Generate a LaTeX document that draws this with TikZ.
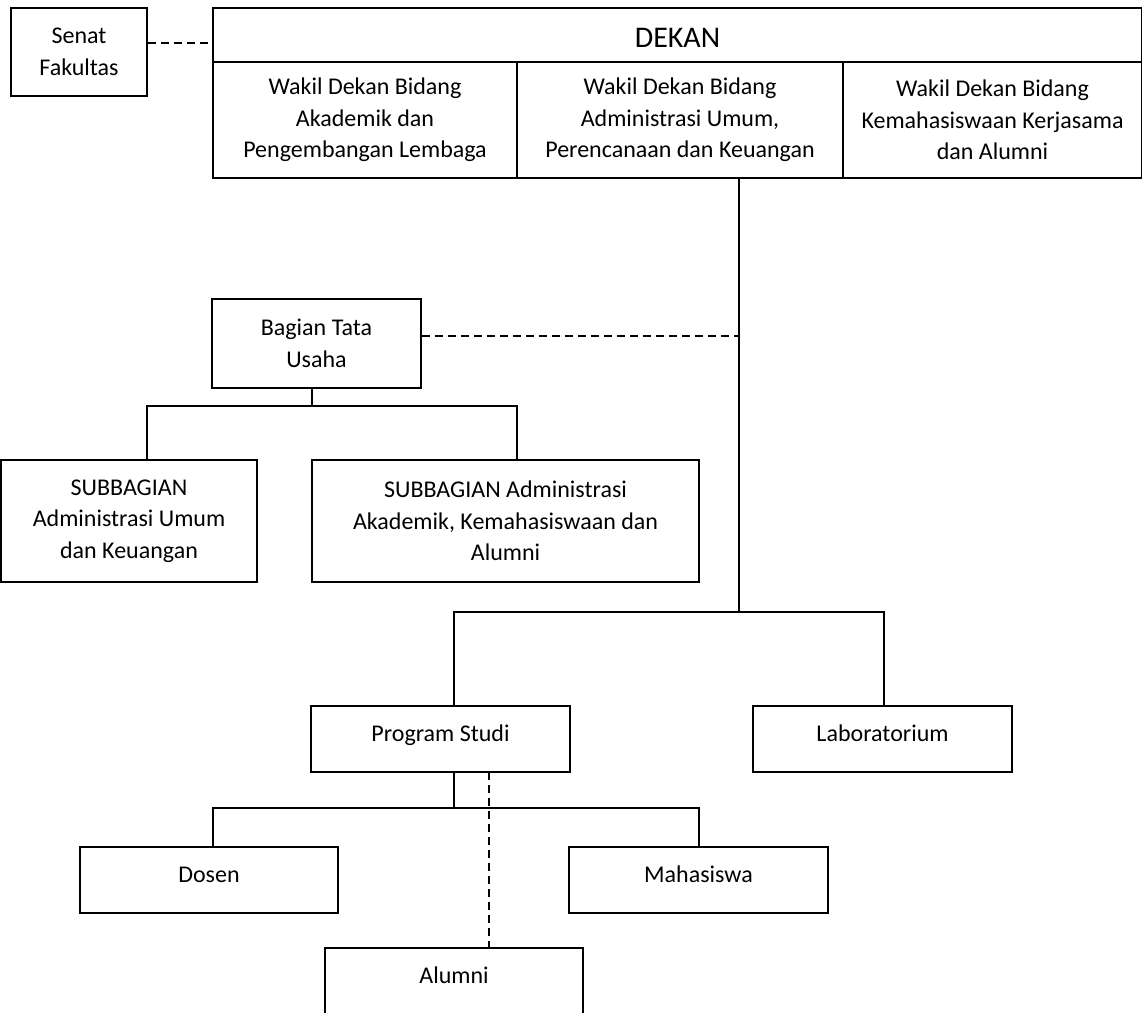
\documentclass[tikz,border=0pt]{standalone}
\usepackage{fontspec}
\setmainfont{Carlito}
\begin{document}
\begin{tikzpicture}[x=1pt,y=-1pt,
  box/.style={draw, line width=1.6pt, rectangle, align=center, inner sep=0pt,
    font=\fontsize{24}{31.5}\selectfont},
  one/.style={text height=16pt, text depth=11pt},
  conn/.style={line width=1.3pt},
  dashconn/.style={line width=1.3pt, dash pattern=on 8pt off 5pt}]
\useasboundingbox (0,0) rectangle (1142,1012);

% top
\node[box, minimum width=136pt, minimum height=88pt] (senat) at (79,52) {Senat\\Fakultas};
\node[box, line width=2pt, minimum width=929pt, minimum height=54pt,
  font=\fontsize{30}{36}\selectfont, text height=25.3pt, text depth=0pt] (dekan) at (677.5,35) {DEKAN};
\node[box, line width=2pt, minimum width=304pt, minimum height=116pt] (w1) at (365,120) {Wakil Dekan Bidang\\Akademik dan\\Pengembangan Lembaga};
\node[box, line width=2pt, minimum width=326pt, minimum height=116pt] (w2) at (680,120) {Wakil Dekan Bidang\\Administrasi Umum,\\Perencanaan dan Keuangan};
\node[box, line width=2pt, minimum width=299pt, minimum height=116pt] (w3) at (992.5,120) {Wakil Dekan Bidang\\Kemahasiswaan Kerjasama\\dan Alumni};

% administration
\node[box, minimum width=209pt, minimum height=89pt] (bagian) at (316.5,343.5) {Bagian Tata\\Usaha};
\node[box, minimum width=256pt, minimum height=122pt] (sub1) at (129,521) {SUBBAGIAN\\Administrasi Umum\\dan Keuangan};
\node[box, minimum width=387pt, minimum height=122pt] (sub2) at (505.5,521) {SUBBAGIAN Administrasi\\Akademik, Kemahasiswaan dan\\Alumni};

% academic
\node[box, one, minimum width=259pt, minimum height=66pt] (prodi) at (440.5,739) {Program Studi};
\node[box, one, minimum width=259pt, minimum height=66pt] (lab) at (882.5,739) {Laboratorium};
\node[box, one, minimum width=258pt, minimum height=66pt] (dosen) at (209,880) {Dosen};
\node[box, one, minimum width=259pt, minimum height=66pt] (mhs) at (698.5,880) {Mahasiswa};
\node[box, one, minimum width=258pt, minimum height=66pt] (alumni) at (454,981) {Alumni};

% junction coordinates
\coordinate (trunk) at (739,612);
\coordinate (tl) at (454,612);
\coordinate (tr) at (884,612);
\coordinate (bj) at (312,406);
\coordinate (bl) at (147,406);
\coordinate (br) at (517,406);
\coordinate (pj) at (454,808);
\coordinate (pl) at (213,808);
\coordinate (pr) at (699,808);
\coordinate (pd) at (489,772);

% connectors
\draw[dashconn] ([yshift=9pt]senat.east) -- ([yshift=9pt]senat.east -| dekan.west);
\draw[conn] (trunk |- w2.south) -- (trunk);
\draw[dashconn] ([yshift=7.5pt]bagian.east) -- ([yshift=7.5pt]bagian.east -| trunk);
\draw[conn] (bj |- bagian.south) -- (bj);
\draw[conn] (bl |- sub1.north) -- (bl) -- (br) -- (br |- sub2.north);
\draw[conn] (tl |- prodi.north) -- (tl) -- (tr) -- (tr |- lab.north);
\draw[conn] (pj |- prodi.south) -- (pj);
\draw[conn] (pl |- dosen.north) -- (pl) -- (pr) -- (pr |- mhs.north);
\draw[dashconn] (pd) -- (pd |- alumni.north);
\end{tikzpicture}
\end{document}
